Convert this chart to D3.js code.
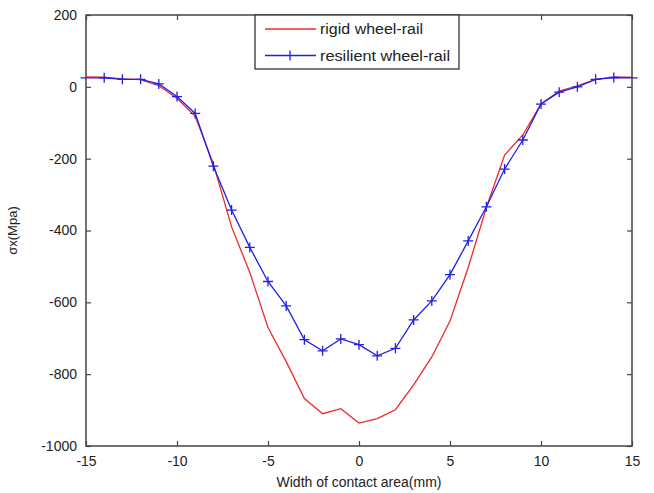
<!DOCTYPE html>
<html>
<head>
<meta charset="utf-8">
<script src="https://cdn.jsdelivr.net/npm/d3@7"></script>
<style>
  body { margin: 0; background: #fff; }
  text { font-family: "Liberation Sans", Arial, sans-serif; fill: #222; }
</style>
</head>
<body>
<script>
// width of contact area (mm)
var xRigid = [-15, -14, -13, -12, -11, -10, -9, -8, -7, -6, -5, -4, -3, -2, -1, 0, 1, 2, 3, 4, 5, 6, 7, 8, 9, 10, 11, 12, 13, 14, 15];
var rigid  = [28, 27, 22, 20, 3, -32, -82, -215, -390, -517, -670, -765, -868, -910, -896, -936, -924, -899, -830, -752, -652, -503, -336, -190, -134, -48, -12, 3, 21, 27, 27];

var xResilient = [-15.3, -15, -14, -13, -12, -11, -10, -9, -8, -7, -6, -5, -4, -3, -2, -1, 0, 1, 2, 3, 4, 5, 6, 7, 8, 9, 10, 11, 12, 13, 14, 15, 15.3];
var resilient  = [25, 25, 25, 21, 21, 8, -27, -74, -221, -343, -447, -542, -610, -704, -735, -702, -718, -749, -728, -649, -596, -523, -429, -334, -229, -148, -48, -15, 0, 21, 26, 25, 25];

var xTicks = [-15, -10, -5, 0, 5, 10, 15];
var yTicks = [200, 0, -200, -400, -600, -800, -1000];
var seriesNames = ["rigid wheel-rail", "resilient wheel-rail"];

var W = 654, H = 493;
var m = {left: 86, right: 22, top: 15, bottom: 47};

var svg = d3.select("body").append("svg")
  .attr("width", W).attr("height", H);

var x = d3.scaleLinear().domain([-15, 15]).range([m.left, W - m.right]);
var y = d3.scaleLinear().domain([-1000, 200]).range([H - m.bottom, m.top]);

var axisColor = "#444";
var plain = function(d){ return String(d); };

// ticks inward on every side, like matlab
svg.append("g").attr("transform", "translate(0," + y(-1000) + ")")
  .call(d3.axisBottom(x).tickValues(xTicks).tickFormat(plain).tickSizeInner(-5).tickSizeOuter(0).tickPadding(10))
  .call(function(g){ g.select(".domain").remove(); });
svg.append("g").attr("transform", "translate(0," + y(200) + ")")
  .call(d3.axisTop(x).tickValues(xTicks).tickSizeInner(-5).tickSizeOuter(0).tickFormat(""))
  .call(function(g){ g.select(".domain").remove(); });
svg.append("g").attr("transform", "translate(" + x(-15) + ",0)")
  .call(d3.axisLeft(y).tickValues(yTicks).tickFormat(plain).tickSizeInner(-5).tickSizeOuter(0).tickPadding(9))
  .call(function(g){ g.select(".domain").remove(); });
svg.append("g").attr("transform", "translate(" + x(15) + ",0)")
  .call(d3.axisRight(y).tickValues(yTicks).tickSizeInner(-5).tickSizeOuter(0).tickFormat(""))
  .call(function(g){ g.select(".domain").remove(); });

svg.selectAll(".tick line").attr("stroke", axisColor).attr("stroke-width", 1.2);
svg.selectAll(".tick text").style("font-size", "14px").attr("fill", "#222")
  .style("font-family", "'Liberation Sans', Arial, sans-serif");

svg.append("rect")
  .attr("x", x(-15)).attr("y", y(200))
  .attr("width", x(15) - x(-15)).attr("height", y(-1000) - y(200))
  .attr("fill", "none").attr("stroke", axisColor).attr("stroke-width", 1.5);

var line = d3.line();

svg.append("path")
  .attr("d", line(xRigid.map(function(d, i){ return [x(d), y(rigid[i])]; })))
  .attr("fill", "none").attr("stroke", "#ee2a2a").attr("stroke-width", 1.3);

svg.append("path")
  .attr("d", line(xResilient.map(function(d, i){ return [x(d), y(resilient[i])]; })))
  .attr("fill", "none").attr("stroke", "#2020e6").attr("stroke-width", 1.3);

// plus markers only on whole millimetres
var marks = xResilient.map(function(d, i){ return [d, resilient[i]]; })
  .filter(function(p){ return Number.isInteger(p[0]) && Math.abs(p[0]) < 15; });
var s = 5;
svg.selectAll(".mk").data(marks).enter().append("path")
  .attr("class", "mk")
  .attr("d", function(p){
    var cx = x(p[0]), cy = y(p[1]);
    return "M" + (cx - s) + "," + cy + "H" + (cx + s) + "M" + cx + "," + (cy - s) + "V" + (cy + s);
  })
  .attr("stroke", "#2020e6").attr("stroke-width", 1.3);

// legend
var lg = svg.append("g");
lg.append("rect").attr("x", 255).attr("y", 15).attr("width", 204).attr("height", 54)
  .attr("fill", "#fff").attr("stroke", "#333").attr("stroke-width", 1.3);
var colors = ["#ee2a2a", "#2020e6"];
seriesNames.forEach(function(name, i){
  var ly = 29 + i * 26.5;
  lg.append("line").attr("x1", 265).attr("x2", 316).attr("y1", ly).attr("y2", ly)
    .attr("stroke", colors[i]).attr("stroke-width", 1.3);
  if (i === 1) {
    lg.append("path").attr("d", "M290," + (ly - s) + "V" + (ly + s))
      .attr("stroke", colors[i]).attr("stroke-width", 1.3);
  }
  lg.append("text").attr("x", 320).attr("y", ly + 5).style("font-size", "14px")
    .attr("textLength", i === 0 ? 103 : 130).attr("lengthAdjust", "spacingAndGlyphs")
    .text(name);
});

svg.append("text")
  .attr("x", x(0)).attr("y", 487)
  .attr("text-anchor", "middle").style("font-size", "14px")
  .text("Width of contact area(mm)");

svg.append("text")
  .attr("transform", "translate(17," + ((y(200) + y(-1000)) / 2) + ") rotate(-90)")
  .attr("text-anchor", "middle").style("font-size", "13px")
  .text("σx(Mpa)");
</script>
</body>
</html>
